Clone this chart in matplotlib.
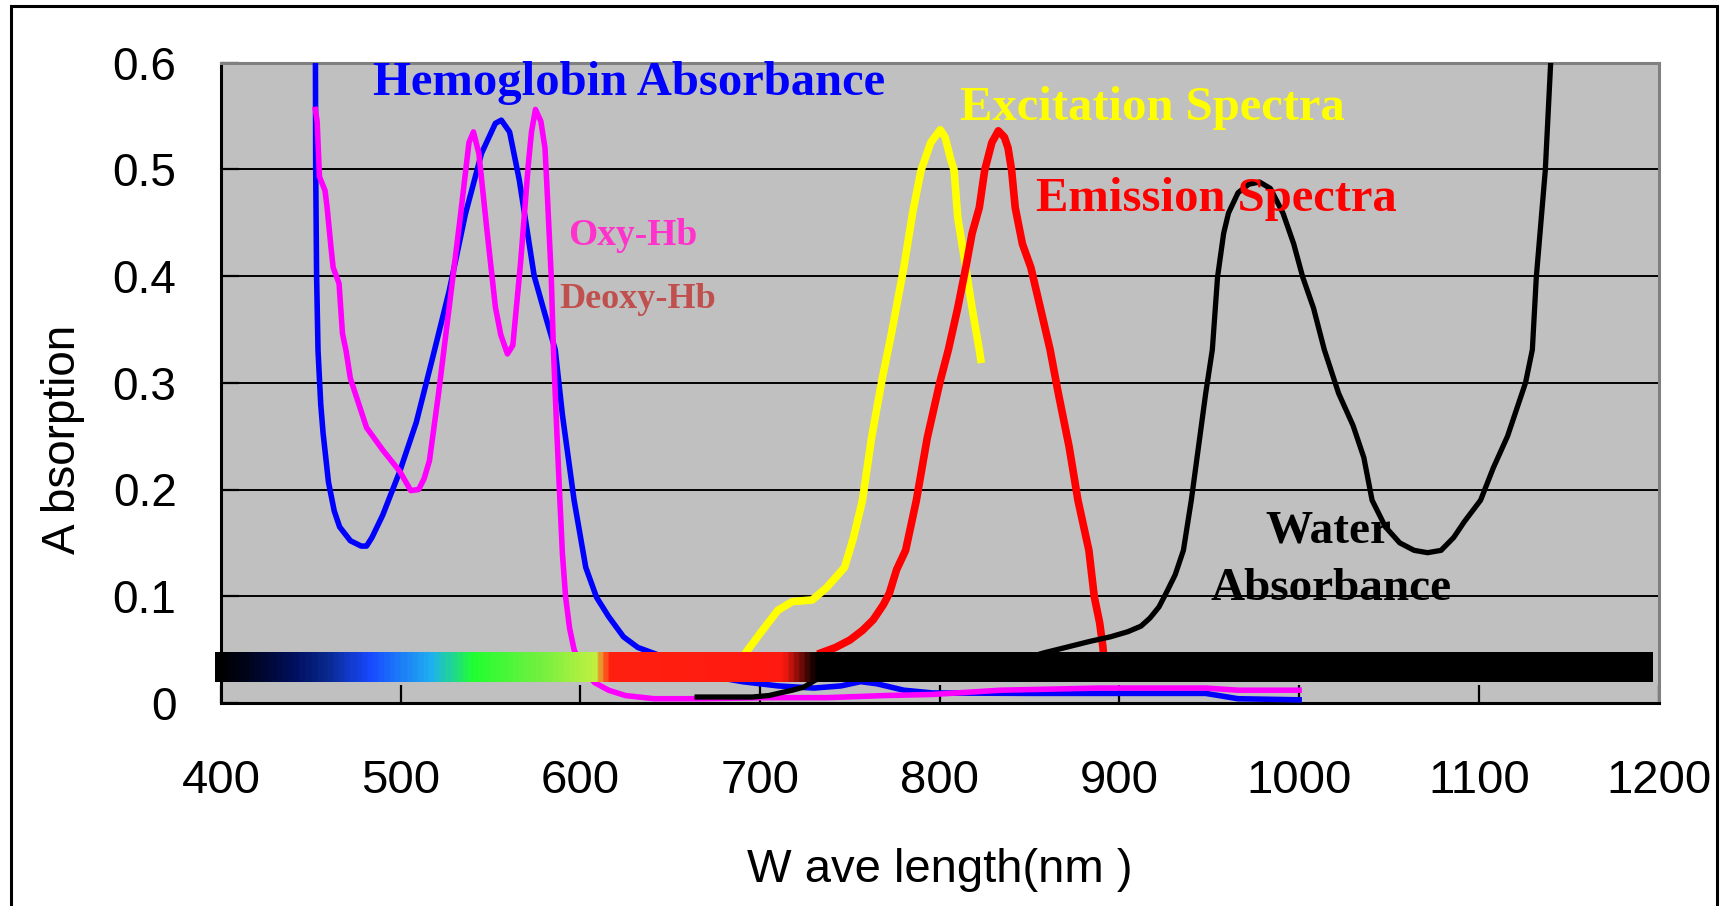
import numpy as np
import matplotlib
matplotlib.use("Agg")
import matplotlib.pyplot as plt
from matplotlib.colors import LinearSegmentedColormap
from matplotlib.patches import Rectangle

# blue curve (hemoglobin absorbance)
hb_nm = [452.5, 452.7, 453.2, 454, 455.5, 456.8, 459.8, 463, 466, 472, 478, 481, 484, 490,
         499.5, 508.7, 518, 527, 536, 545, 552.7, 556, 560.6, 566, 574.3, 581, 586, 590,
         596.5, 603, 609, 615.7, 624, 632, 645, 655, 670, 690, 710, 730, 745, 756, 765,
         780, 796, 850, 948, 966, 1000]
hb_abs = [0.64, 0.50, 0.40, 0.33, 0.28, 0.253, 0.207, 0.18, 0.165, 0.152, 0.147, 0.147, 0.155, 0.176,
          0.217, 0.263, 0.325, 0.386, 0.458, 0.515, 0.543, 0.546, 0.535, 0.49, 0.40, 0.36, 0.331, 0.27,
          0.19, 0.127, 0.099, 0.081, 0.062, 0.052, 0.044, 0.033, 0.026, 0.020, 0.016, 0.014, 0.016, 0.020, 0.018,
          0.012, 0.0094, 0.009, 0.009, 0.004, 0.003]

# magenta curve (oxy-Hb)
oxy_nm = [452.5, 453.5, 454.8, 457.9, 459, 461.2, 462.4, 465.7, 467.6, 469.6, 472, 481, 490, 499.5,
          505.6, 510, 513, 516, 521, 527, 533, 538, 540.5, 543.5, 548, 552.7, 555.7, 559.4, 562.4,
          566.7, 571, 572.8, 575, 578, 580.3, 581.5, 583.8, 585, 587, 588.6, 590, 591.8, 594, 596.5,
          600, 603, 608, 615.7, 625, 641, 667.5, 704, 737, 770, 796, 834, 889, 948, 966, 1000]
oxy_abs = [0.556, 0.545, 0.493, 0.48, 0.465, 0.427, 0.408, 0.393, 0.346, 0.33, 0.304, 0.258, 0.237, 0.217,
           0.199, 0.200, 0.21, 0.227, 0.289, 0.371, 0.453, 0.525, 0.535, 0.515, 0.443, 0.371, 0.345, 0.327, 0.335,
           0.412, 0.504, 0.535, 0.556, 0.545, 0.52, 0.48, 0.399, 0.331, 0.25, 0.19, 0.14, 0.099, 0.07, 0.05,
           0.036, 0.028, 0.019, 0.012, 0.007, 0.004, 0.004, 0.005, 0.005, 0.007, 0.008, 0.012, 0.014, 0.014, 0.012, 0.012]

# yellow curve (excitation)
exc_nm = [692, 700.4, 710, 718, 729, 737, 747, 752, 757, 762, 768, 773, 780, 785, 789.6, 795,
          800.3, 803, 806, 808, 810, 814.5, 818, 822, 822.8]
exc_abs = [0.047, 0.066, 0.087, 0.095, 0.0965, 0.108, 0.127, 0.155, 0.19, 0.248, 0.304, 0.345, 0.408, 0.46, 0.499, 0.525,
           0.537, 0.53, 0.51, 0.499, 0.455, 0.408, 0.37, 0.331, 0.322]

# red curve (emission)
emi_nm = [734, 742, 750, 757, 763, 768.6, 772, 776, 781, 787, 793, 800, 804.8, 810, 814.5, 818,
          822, 825, 829, 832.6, 836, 838, 840, 842, 846, 850.7, 856, 861.4, 866, 872, 876.9,
          883, 886, 889, 890.8, 891.5]
emi_abs = [0.047, 0.052, 0.059, 0.068, 0.078, 0.092, 0.103, 0.125, 0.143, 0.19, 0.248, 0.30, 0.331, 0.37, 0.408, 0.44,
           0.464, 0.499, 0.525, 0.536, 0.53, 0.52, 0.499, 0.464, 0.43, 0.408, 0.37, 0.331, 0.29, 0.24, 0.19,
           0.143, 0.0996, 0.075, 0.0525, 0.04]

# black curve (water absorbance)
wat_nm = [665, 695.6, 705, 711.8, 718, 724.6, 730.7, 740, 770, 800, 830, 850, 858, 870, 883, 895,
          904.7, 912, 917, 922, 926, 931, 935.6, 940, 944, 948, 951.7, 954.6, 958, 960.7, 966, 972,
          978, 984, 991, 997, 1002, 1008, 1014, 1022, 1030, 1036, 1040.6, 1048, 1056, 1064, 1071.5,
          1079, 1086, 1092, 1101, 1108, 1116, 1122, 1126, 1129.8, 1132, 1137, 1140, 1141]
wat_abs = [0.0056, 0.0056, 0.007, 0.0097, 0.012, 0.015, 0.0215, 0.026, 0.031, 0.035, 0.039, 0.043, 0.047, 0.052, 0.0575, 0.062,
           0.0668, 0.072, 0.0796, 0.09, 0.103, 0.12, 0.143, 0.19, 0.24, 0.29, 0.331, 0.399, 0.44, 0.459, 0.478, 0.486,
           0.488, 0.482, 0.459, 0.43, 0.399, 0.37, 0.331, 0.29, 0.26, 0.23, 0.19, 0.165, 0.15, 0.143, 0.1408,
           0.143, 0.155, 0.17, 0.19, 0.22, 0.25, 0.28, 0.30, 0.331, 0.399, 0.499, 0.6, 0.65]

# visible spectrum strip
strip_nm = [396.7, 412, 440, 458, 481, 516, 539, 575, 607, 612, 616, 700, 712, 731, 1196.7]
strip_col = ["#000000", "#000418", "#001060", "#0a2a90", "#1848ff", "#20b0f0", "#20ff30", "#70f040",
             "#c0f040", "#ff6020", "#ff2010", "#ff1a10", "#ff1a10", "#000000", "#000000"]
strip_lo, strip_hi = 0.0197, 0.0478

xticks = [400, 500, 600, 700, 800, 900, 1000, 1100, 1200]
yticks = [0, 0.1, 0.2, 0.3, 0.4, 0.5, 0.6]

sans = ["Liberation Sans", "DejaVu Sans"]
serif = ["Liberation Serif", "DejaVu Serif"]

fig = plt.figure(figsize=(17.2, 9.06), dpi=100)
fig.patches.append(Rectangle((10.5 / 1720, -0.05), (1717 - 10.5) / 1720, 1.05 - 6 / 906,
                             transform=fig.transFigure, fill=False, edgecolor="black", linewidth=2.2))
ax = fig.add_axes([221 / 1720, 1 - 703 / 906, (1658.5 - 221) / 1720, (703 - 62.5) / 906])
ax.set_facecolor("#c0c0c0")
ax.set_xlim(400, 1200)
ax.set_ylim(0, 0.6)
ax.set_xticks(xticks)
ax.set_yticks(yticks)
ax.set_xticklabels([str(v) for v in xticks], family=sans, fontsize=34)
ax.set_yticklabels(["0"] + ["%.1f" % v for v in yticks[1:]], family=sans, fontsize=33)
ax.tick_params(axis="x", direction="in", length=13, width=1.6, pad=40, top=False)
ax.tick_params(axis="y", direction="in", length=13, width=1.6, pad=32, right=False)
ax.grid(axis="y", color="black", linewidth=1.4, zorder=1)
ax.set_axisbelow(True)
for s in ["left", "bottom"]:
    ax.spines[s].set_color("black")
    ax.spines[s].set_linewidth(2.2)
for s in ["top", "right"]:
    ax.spines[s].set_color("#808080")
    ax.spines[s].set_linewidth(2.2)

ax.plot(hb_nm, hb_abs, color="#0000ff", lw=4.0, zorder=3, solid_joinstyle="round")
ax.plot(oxy_nm, oxy_abs, color="#ff00ff", lw=4.0, zorder=3, solid_joinstyle="round")
ax.plot(exc_nm, exc_abs, color="#ffff00", lw=5.5, zorder=3, solid_joinstyle="round")
ax.plot(emi_nm, emi_abs, color="#ff0000", lw=5.5, zorder=3, solid_joinstyle="round")
ax.plot(wat_nm, wat_abs, color="black", lw=3.8, zorder=3, solid_joinstyle="round")

cmap = LinearSegmentedColormap.from_list(
    "vis", [((n - strip_nm[0]) / (strip_nm[-1] - strip_nm[0]), c) for n, c in zip(strip_nm, strip_col)])
grad = np.linspace(0, 1, 800).reshape(1, -1)
ax.imshow(grad, cmap=cmap, aspect="auto", extent=[strip_nm[0], strip_nm[-1], strip_lo, strip_hi],
          zorder=6, clip_on=False, interpolation="bilinear")
ax.set_xlim(400, 1200)
ax.set_ylim(0, 0.6)

tk = dict(family=serif, fontweight="bold", va="baseline", zorder=5)
ax.text(484.6, 0.5696, "Hemoglobin Absorbance", color="#0000ff", fontsize=35, **tk)
ax.text(811.5, 0.546, "Excitation Spectra", color="#ffff00", fontsize=35, **tk)
ax.text(853.5, 0.461, "Emission Spectra", color="#ff0000", fontsize=35, **tk)
ax.text(593.2, 0.429, "Oxy-Hb", color="#ff33cc", fontsize=27, **tk)
ax.text(588.2, 0.370, "Deoxy-Hb", color="#c0504d", fontsize=26, **tk)
ax.text(1016, 0.150, "Water", color="black", fontsize=34, ha="center", **tk)
ax.text(1017.5, 0.0965, "Absorbance", color="black", fontsize=34, ha="center", **tk)

fig.text(940 / 1720, 1 - 882 / 906, "W ave length(nm )", family=sans, fontsize=34,
         ha="center", va="baseline")
fig.text(63 / 1720, 1 - 439 / 906, "A bsorption", family=sans, fontsize=33,
         rotation=90, ha="center", va="center")

fig.savefig("out.png", dpi=100)
